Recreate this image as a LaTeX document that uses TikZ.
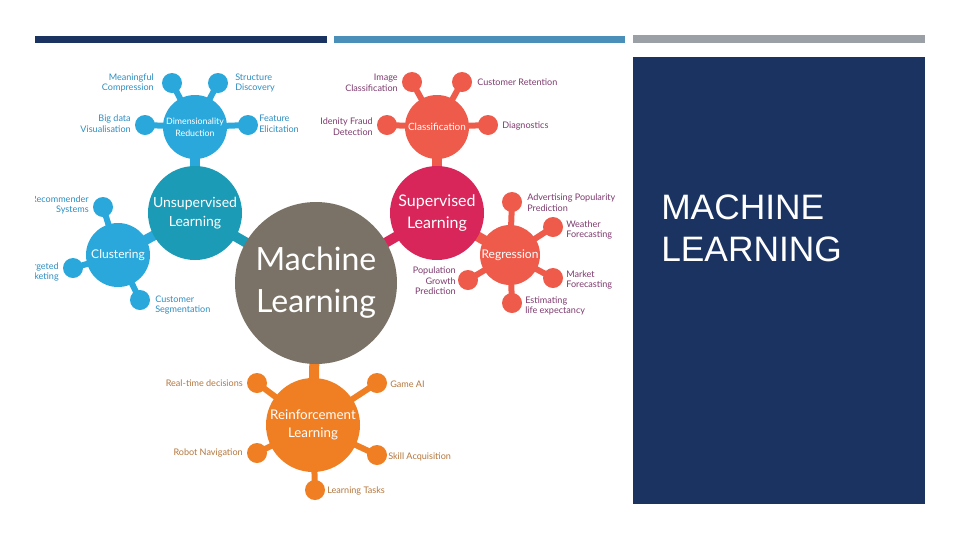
\documentclass[tikz,border=0pt]{standalone}
\usepackage{fontspec}
\setmainfont{Lato}
\newfontfamily\panelfont{Liberation Sans}
\usetikzlibrary{backgrounds}
\definecolor{navy}{HTML}{1B3361}
\definecolor{barblue}{HTML}{4A8FBA}
\definecolor{bargray}{HTML}{9BA0A6}
\definecolor{mlgray}{HTML}{7A7266}
\definecolor{unsup}{HTML}{1B9BB6}
\definecolor{skyblue}{HTML}{2AA8DC}
\definecolor{bluetxt}{HTML}{2F8EC2}
\definecolor{crimson}{HTML}{D8265A}
\definecolor{coral}{HTML}{EF5B4B}
\definecolor{purptxt}{HTML}{7E3B6E}
\definecolor{orange}{HTML}{F07F23}
\definecolor{orangetxt}{HTML}{B4773E}

\begin{document}
\begin{tikzpicture}[x=0.75pt,y=-0.75pt,
    hub/.style={circle,inner sep=0pt,text=white,align=center},
    sat/.style={circle,inner sep=0pt,minimum size=15pt,fill=#1},
    lbl/.style={inner sep=0pt,text=#1,font=\fontsize{6.8}{8}\selectfont},
    stem/.style={draw=#1,line width=4.5pt},
    neck/.style={draw=#1,line width=7.5pt}]
  \useasboundingbox (0,0) rectangle (960,540);
  \begin{pgfonlayer}{background}
    \fill[white] (0,0) rectangle (960,540);
  \end{pgfonlayer}

  % header bars
  \fill[navy] (35,36) rectangle (327,43);
  \fill[barblue] (334,36) rectangle (625,43);
  \fill[bargray] (633,35) rectangle (925,43);

  % title panel
  \fill[navy] (633,57) rectangle (925,504);
  \node[anchor=base west,inner sep=0pt,text=white,font=\panelfont\fontsize{26.5}{31}\selectfont]
    (title1) at (661,219) {MACHINE};
  \node[anchor=base west,inner sep=0pt,text=white,font=\panelfont\fontsize{26.5}{31}\selectfont]
    (title2) at (661,261) {LEARNING};

  % mind map picture
  \begin{scope}
    \clip (35,57) rectangle (633,503);
    % centre
    \node[hub,fill=mlgray,minimum size=121.5pt,font=\fontsize{24}{31.5}\selectfont]
      (ml) at (316,283) {Machine\\Learning};

    % unsupervised branch
    \node[hub,fill=unsup,minimum size=70.5pt,font=\fontsize{10.5}{14}\selectfont]
      (unsup) at (195,213) {Unsupervised\\Learning};
    \node[hub,fill=skyblue,minimum size=48pt,font=\fontsize{6.6}{9}\selectfont]
      (dim) at (195,127) {Dimensionality\\Reduction};
    \node[sat=skyblue] (dmc) at (172,83) {};
    \node[sat=skyblue] (dsd) at (218,83) {};
    \node[sat=skyblue] (dbv) at (145,125) {};
    \node[sat=skyblue] (dfe) at (248,125) {};
    \node[lbl=bluetxt,anchor=east,align=right] (tmc) at (154,83) {Meaningful\\Compression};
    \node[lbl=bluetxt,anchor=west,align=left] (tsd) at (235,83) {Structure\\Discovery};
    \node[lbl=bluetxt,anchor=east,align=right] (tbv) at (131,124) {Big data\\Visualisation};
    \node[lbl=bluetxt,anchor=west,align=left] (tfe) at (259,124) {Feature\\Elicitation};

    \node[hub,fill=skyblue,minimum size=48pt,font=\fontsize{9}{11}\selectfont]
      (clust) at (118,255) {Clustering};
    \node[sat=skyblue] (crs) at (103,207) {};
    \node[sat=skyblue] (ctm) at (73,268) {};
    \node[sat=skyblue] (ccs) at (140,300) {};
    \node[lbl=bluetxt,anchor=east,align=right] (trs) at (89,205) {Recommender\\Systems};
    \node[lbl=bluetxt,anchor=east,align=right] (ttm) at (59,272) {Targeted\\Marketing};
    \node[lbl=bluetxt,anchor=west,align=left] (tcs) at (155,305) {Customer\\Segmentation};

    % supervised branch
    \node[hub,fill=crimson,minimum size=70.5pt,font=\fontsize{12}{17}\selectfont]
      (sup) at (437,213) {Supervised\\Learning};
    \node[hub,fill=coral,minimum size=48pt,font=\fontsize{7.5}{9}\selectfont]
      (class) at (437,127) {Classification};
    \node[sat=coral] (cic) at (412,82) {};
    \node[sat=coral] (ccr) at (462,82) {};
    \node[sat=coral] (cif) at (387,125) {};
    \node[sat=coral] (cdg) at (488,125) {};
    \node[lbl=purptxt,anchor=east,align=right] (tic) at (398,83) {Image\\Classification};
    \node[lbl=purptxt,anchor=west,align=left] (tcr) at (477,82) {Customer Retention};
    \node[lbl=purptxt,anchor=east,align=right] (tif) at (373,127) {Idenity Fraud\\Detection};
    \node[lbl=purptxt,anchor=west,align=left] (tdg) at (502,126) {Diagnostics};

    \node[hub,fill=coral,minimum size=45pt,font=\fontsize{9}{11}\selectfont]
      (regr) at (510,255) {Regression};
    \node[sat=coral] (rap) at (512,202) {};
    \node[sat=coral] (rwf) at (553,227) {};
    \node[sat=coral] (rmf) at (553,278) {};
    \node[sat=coral] (rle) at (512,303) {};
    \node[sat=coral] (rpg) at (468,280) {};
    \node[lbl=purptxt,anchor=west,align=left] (tap) at (527,203) {Advertising Popularity\\Prediction};
    \node[lbl=purptxt,anchor=west,align=left] (twf) at (566,230) {Weather\\Forecasting};
    \node[lbl=purptxt,anchor=west,align=left] (tmf) at (566,280) {Market\\Forecasting};
    \node[lbl=purptxt,anchor=west,align=left] (tle) at (525,306) {Estimating\\life expectancy};
    \node[lbl=purptxt,anchor=east,align=right] (tpg) at (456,281) {Population\\Growth\\Prediction};

    % reinforcement branch
    \node[hub,fill=orange,minimum size=70.5pt,font=\fontsize{10}{14}\selectfont]
      (reinf) at (313,425) {Reinforcement\\Learning};
    \node[sat=orange] (lrt) at (257,383) {};
    \node[sat=orange] (lga) at (377,383) {};
    \node[sat=orange] (lrn) at (257,453) {};
    \node[sat=orange] (lsa) at (377,455) {};
    \node[sat=orange] (llt) at (315,490) {};
    \node[lbl=orangetxt,anchor=east] (trt) at (243,383) {Real-time decisions};
    \node[lbl=orangetxt,anchor=west] (tga) at (390,384) {Game AI};
    \node[lbl=orangetxt,anchor=east] (trn) at (243,453) {Robot Navigation};
    \node[lbl=orangetxt,anchor=west] (tsa) at (388,457) {Skill Acquisition};
    \node[lbl=orangetxt,anchor=west] (tlt) at (327,491) {Learning Tasks};

    % stems behind the circles
    \begin{pgfonlayer}{background}
      \draw[neck=unsup] (ml.center) -- (unsup.center);
      \draw[neck=crimson] (ml.center) -- (sup.center);
      \draw[neck=orange] (ml.center) -- (reinf.center);
      \draw[neck=skyblue] (unsup.center) -- (dim.center);
      \draw[neck=skyblue] (unsup.center) -- (clust.center);
      \draw[neck=coral] (sup.center) -- (class.center);
      \draw[neck=coral] (sup.center) -- (regr.center);
      \draw[stem=skyblue] (dim.center) -- (dmc.center);
      \draw[stem=skyblue] (dim.center) -- (dsd.center);
      \draw[stem=skyblue] (dim.center) -- (dbv.center);
      \draw[stem=skyblue] (dim.center) -- (dfe.center);
      \draw[stem=skyblue] (clust.center) -- (crs.center);
      \draw[stem=skyblue] (clust.center) -- (ctm.center);
      \draw[stem=skyblue] (clust.center) -- (ccs.center);
      \draw[stem=coral] (class.center) -- (cic.center);
      \draw[stem=coral] (class.center) -- (ccr.center);
      \draw[stem=coral] (class.center) -- (cif.center);
      \draw[stem=coral] (class.center) -- (cdg.center);
      \draw[stem=coral] (regr.center) -- (rap.center);
      \draw[stem=coral] (regr.center) -- (rwf.center);
      \draw[stem=coral] (regr.center) -- (rmf.center);
      \draw[stem=coral] (regr.center) -- (rle.center);
      \draw[stem=coral] (regr.center) -- (rpg.center);
      \draw[stem=orange] (reinf.center) -- (lrt.center);
      \draw[stem=orange] (reinf.center) -- (lga.center);
      \draw[stem=orange] (reinf.center) -- (lrn.center);
      \draw[stem=orange] (reinf.center) -- (lsa.center);
      \draw[stem=orange] (reinf.center) -- (llt.center);
    \end{pgfonlayer}
  \end{scope}
\end{tikzpicture}
\end{document}
